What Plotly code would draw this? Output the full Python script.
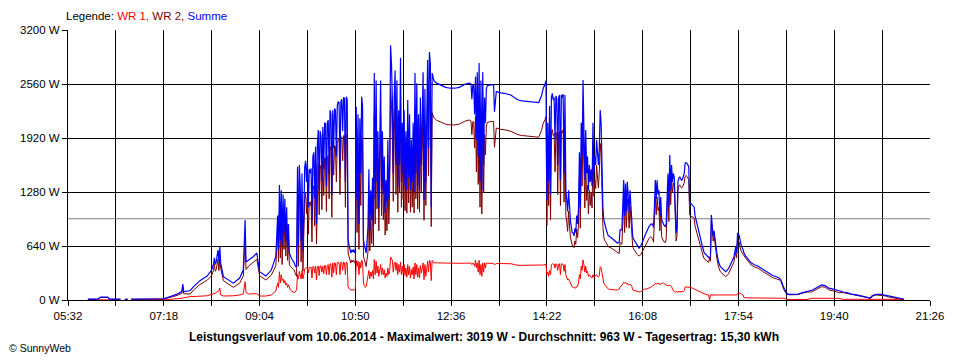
import plotly.graph_objects as go

# ---------------- data (minutes since midnight, watts) ----------------
zeit_labels = ["05:32", "07:18", "09:04", "10:50", "12:36", "14:22",
               "16:08", "17:54", "19:40", "21:26"]
y_labels = ["0 W", "640 W", "1280 W", "1920 W", "2560 W", "3200 W"]
durchschnitt = 963

# early morning
t_a = [354, 365, 368, 376, 378, 390, 391, 395, 398, 399, 402, 436]
s_a = [10, 10, 35, 35, 10, 10, None, 10, 10, None, 10, 12]
r_a = [2, 2, 5, 5, 2, 2, None, 2, 2, None, 2, 3]

# 07:18 - 09:30
t_b = [438, 445, 453, 458, 459, 460, 467, 471, 478, 486,
       491, 493, 494, 495, 496, 498, 499, 500, 501, 504,
       510, 515, 522, 526, 528, 529, 532, 537, 541, 544,
       551, 557, 562]
s_b = [15, 40, 70, 100, 190, 100, 110, 158, 229, 284,
       355, 420, 500, 420, 450, 593, 460, 632, 437, 276,
       229, 200, 260, 355, 948, 450, 474, 513, 557, 335,
       284, 355, 513]
r_b = [3, 8, 15, 20, 25, 25, 40, 40, 45, 50,
       65, 70, 80, 80, 90, 110, 110, 142, 60, 47,
       47, 50, 60, 71, 217, 90, 71, 71, 75, 47,
       47, 60, 107]

# 09:24 - 10:50
t_c = [564, 565, 566, 567, 568, 569, 570, 571, 572, 573,
       574, 575, 576, 577, 578, 579, 580, 581, 582, 583,
       584, 585, 586, 587, 588, 589, 590, 591, 592, 593,
       594, 595, 596, 597, 598, 599, 600, 601, 602, 603,
       604, 605, 606, 607, 608, 609, 610, 611, 612, 613,
       614, 615, 616, 617, 618, 619, 620, 621, 622, 623,
       624, 625, 626, 627, 628, 629, 630, 631, 632, 633,
       634, 635, 636, 637, 638, 639, 640, 641, 642, 643,
       644, 645, 646, 647, 648, 649, 650]
s_c = [1000, 600, 1363, 700, 1300, 650, 1250, 800, 1200, 700,
       1100, 620, 900, 557, 520, 500, 480, 470, 450, 420,
       395, 400, 1580, 650, 1600, 1350, 700, 1500, 593, 1000,
       1580, 1650, 1400, 1620, 1100, 1550, 1500, 1560, 950, 1700,
       1750, 1200, 1817, 900, 1850, 2015, 1300, 2000, 1950, 1400,
       2050, 1550, 2095, 2090, 1350, 2100, 2130, 1500, 2250, 2200,
       1250, 2250, 1800, 2270, 2252, 1700, 2300, 2350, 2340, 1550,
       2350, 2380, 2000, 2400, 2390, 1400, 2410, 2380, 711, 650,
       600, 557, 593, 570, 600, 560, 580]
r_c = [200, 150, 335, 200, 300, 230, 250, 200, 230, 180,
       200, 150, 180, 140, 120, 110, 100, 95, 90, 90,
       100, 120, 300, 250, 340, 300, 250, 350, 250, 300,
       370, 379, 379, 380, 320, 390, 380, 390, 260, 395,
       395, 320, 400, 237, 395, 400, 290, 405, 400, 330,
       400, 310, 410, 405, 300, 410, 420, 300, 430, 425,
       270, 440, 320, 440, 435, 300, 445, 450, 440, 300,
       450, 445, 350, 450, 440, 300, 450, 440, 154, 130,
       125, 119, 120, 119, 125, 120, 130]

# 10:51 - 12:15
t_d = [651, 652, 653, 654, 655, 656, 657, 658, 659, 660,
       661, 662, 663, 664, 665, 666, 667, 668, 669, 670,
       671, 672, 673, 674, 675, 676, 677, 678, 679, 680,
       681, 682, 683, 684, 685, 686, 687, 688, 689, 690,
       691, 692, 693, 694, 695, 696, 697, 698, 699, 700,
       701, 702, 703, 704, 705, 706, 707, 708, 709, 710,
       711, 712, 713, 714, 715, 716, 717, 718, 719, 720,
       721, 722, 723, 724, 725, 726, 727, 728, 729, 730,
       731, 732, 733, 734, 735]
s_d = [2290, 1200, 2200, 900, 2150, 1500, 2410, 2300, 711, 650,
       600, 557, 700, 870, 1550, 830, 1300, 950, 1450, 880,
       2690, 1200, 2600, 1400, 2000, 1100, 1800, 2600, 1300, 2000,
       1250, 1700, 1030, 1420, 1100, 1900, 1200, 1600, 3019, 2800,
       2370, 1500, 2400, 2720, 1600, 2600, 1340, 2250, 1600, 2870,
       1400, 2100, 1500, 2250, 1350, 2000, 1300, 2370, 1450, 2200,
       1300, 1900, 1400, 2100, 1280, 2690, 1500, 2570, 1350, 2200,
       1300, 2400, 1600, 2000, 2700, 1185, 2500, 1400, 2600, 2844,
       1800, 2940, 2800, 1100, 2690]
r_d = [470, 400, 460, 300, 450, 380, 470, 450, 200, 170,
       150, 160, 220, 300, 350, 250, 330, 280, 350, 250,
       480, 300, 460, 320, 400, 280, 380, 420, 300, 380,
       300, 360, 260, 320, 280, 380, 300, 340, 510, 480,
       470, 330, 440, 450, 350, 440, 300, 420, 330, 450,
       300, 400, 310, 420, 290, 380, 270, 420, 300, 400,
       260, 360, 300, 390, 250, 440, 300, 420, 270, 380,
       260, 410, 320, 370, 440, 240, 420, 280, 430, 460,
       330, 470, 450, 230, 470]

# 12:17 - 14:16
t_e = [737, 740, 745, 750, 755, 760, 765, 768, 772, 776,
       778, 779, 780, 781, 782, 783, 784, 785, 786, 787,
       788, 789, 790, 791, 792, 793, 794, 795, 796, 800,
       803, 804, 806, 811, 815, 822, 826, 830, 835, 848,
       853, 856]
s_e = [2600, 2570, 2540, 2520, 2510, 2510, 2520, 2540, 2560, 2570,
       2560, 2380, 2550, 2540, 2200, 2650, 1900, 2700, 1700, 2810,
       1400, 2600, 1300, 2700, 1600, 2400, 2100, 2500, 2540, 2550,
       2550, 2230, 2470, 2455, 2450, 2430, 2400, 2370, 2360, 2345,
       2340, 2420]
r_e = [440, 440, 438, 436, 435, 435, 435, 435, 437, 437,
       437, 420, 437, 430, 400, 470, 380, 440, 330, 470,
       300, 420, 280, 440, 330, 440, 380, 440, 435, 435,
       433, 420, 432, 432, 432, 430, 420, 411, 411, 411,
       411, 411]

# 14:18 - 16:30
t_f = [858, 860, 861, 862, 863, 864, 865, 866, 867, 868,
       869, 870, 871, 872, 873, 874, 875, 876, 877, 878,
       879, 880, 881, 882, 883, 884, 885, 886, 887, 888,
       889, 890, 891, 892, 893, 894, 895, 896, 897, 898,
       899, 900, 901, 902, 903, 904, 905, 906, 907, 908,
       909, 910, 911, 912, 913, 914, 915, 916, 917, 918,
       919, 920, 921, 922, 923, 924, 925, 926, 927, 928,
       929, 930, 932, 935, 938, 940, 942, 943, 945, 946,
       947, 948, 949, 950, 951, 952, 953, 954, 955, 956,
       957, 958, 960, 962, 964, 966, 968, 970, 972, 975,
       977, 979, 980, 981, 982, 983, 984, 985, 986, 987,
       988, 989, 990]
s_f = [2510, 2560, 2600, 1185, 2100, 1400, 2300, 1250, 2400, 2450,
       2370, 2400, 1900, 2420, 2380, 1600, 2400, 2430, 1420, 2430,
       2400, 2440, 1500, 2430, 1300, 1180, 1050, 1300, 1030, 948,
       870, 800, 794, 760, 850, 800, 1000, 900, 1100, 1750,
       1100, 2100, 1700, 2607, 2000, 1422, 2015, 1500, 1700, 1300,
       1600, 1400, 1550, 1350, 2100, 1500, 1700, 1600, 1900, 1700,
       1600, 1800, 2250, 2100, 1422, 1100, 950, 880, 865, 820,
       790, 760, 750, 720, 690, 675, 680, 830, 830, 1100,
       1422, 1000, 1380, 1050, 1400, 1240, 1030, 1300, 1100, 1000,
       750, 720, 680, 640, 615, 640, 700, 750, 800, 870,
       900, 900, 860, 1100, 1422, 1200, 1420, 1250, 1300, 1000,
       1220, 950, 910]
r_f = [415, 420, 425, 300, 330, 280, 350, 300, 420, 430,
       420, 430, 380, 430, 420, 350, 425, 430, 300, 430,
       420, 420, 340, 420, 300, 260, 237, 250, 220, 200,
       170, 154, 150, 140, 150, 140, 160, 160, 200, 300,
       250, 400, 350, 474, 420, 330, 400, 320, 340, 280,
       300, 280, 270, 260, 300, 270, 280, 280, 300, 280,
       270, 290, 395, 380, 300, 230, 200, 180, 170, 150,
       140, 130, 125, 119, 119, 119, 130, 150, 170, 190,
       210, 200, 210, 190, 200, 180, 180, 190, 180, 160,
       119, 115, 110, 100, 95, 100, 119, 130, 130, 140,
       150, 170, 175, 180, 200, 190, 200, 190, 200, 180,
       190, 200, 200]

# 16:31 - 18:41
t_g = [991, 992, 993, 994, 995, 996, 997, 998, 999, 1000,
       1001, 1002, 1003, 1004, 1005, 1006, 1007, 1008, 1009, 1010,
       1011, 1012, 1013, 1014, 1015, 1016, 1017, 1018, 1019, 1020,
       1021, 1023, 1025, 1026, 1028, 1030, 1032, 1034, 1036, 1038,
       1041, 1042, 1043, 1044, 1045, 1046, 1047, 1048, 1049, 1050,
       1051, 1052, 1054, 1057, 1060, 1063, 1066, 1069, 1071, 1072,
       1073, 1074, 1075, 1076, 1077, 1079, 1080, 1082, 1085, 1088,
       1092, 1096, 1100, 1104, 1108, 1112, 1116, 1119, 1121]
s_g = [900, 880, 870, 900, 1200, 1500, 1100, 1718, 1300, 1600,
       1400, 1500, 1450, 900, 794, 850, 1400, 1440, 1460, 1440,
       1420, 1430, 1460, 1500, 1620, 1630, 1620, 1600, 1580, 1160,
       1150, 1130, 1100, 1000, 900, 800, 700, 640, 560, 533,
       505, 500, 520, 1007, 900, 760, 820, 700, 650, 560,
       500, 450, 395, 360, 335, 370, 440, 510, 630, 560,
       794, 780, 760, 700, 650, 600, 560, 520, 480, 440,
       415, 400, 370, 340, 310, 290, 275, 260, 240]
r_g = [200, 195, 190, 180, 170, 175, 170, 175, 170, 160,
       130, 110, 100, 95, 95, 95, 95, 95, 95, 95,
       95, 95, 100, 110, 154, 154, 154, 154, 154, 154,
       150, 140, 130, 125, 110, 100, 90, 80, 70, 65,
       60, 0, 60, 60, 60, 60, 60, 60, 60, 60,
       60, 60, 60, 60, 60, 60, 60, 60, 60, 60,
       80, 80, 80, 80, 70, 60, 30, 25, 25, 25,
       25, 25, 25, 25, 25, 25, 25, 20, 20]

# evening
t_h = [1122, 1124, 1126, 1127, 1130, 1135, 1140, 1144, 1150, 1155,
       1158, 1162, 1166, 1170, 1174, 1180, 1185, 1190, 1195, 1199,
       1205, 1212, 1217, 1220, 1222, 1226, 1232, 1235, 1240, 1246,
       1252, 1257]
s_h = [200, 150, 110, 80, 67, 65, 70, 85, 100, 115,
       130, 158, 178, 170, 140, 125, 107, 95, 85, 70,
       60, 45, 36, 24, 50, 67, 67, 60, 45, 30,
       20, 12]
r_h = [20, 20, 20, 6, 6, 6, 6, 6, 6, 20,
       20, 20, 20, 20, 20, 20, 20, 8, 8, 8,
       8, 8, 8, 8, 8, 8, 8, 8, 8, 8,
       8, 8]

# ---------------- assemble ----------------
zeit = t_a + t_b + t_c + t_d + t_e + t_f + t_g + t_h
summe = s_a + s_b + s_c + s_d + s_e + s_f + s_g + s_h
wr1 = r_a + r_b + r_c + r_d + r_e + r_f + r_g + r_h
wr2 = [None if s is None else s - r for s, r in zip(summe, wr1)]

x_start, x_end, step = 332, 1286, 53
tickvals = list(range(x_start, x_end + 1, step))
ticktext = []
for i in range(len(tickvals)):
    ticktext.append(zeit_labels[i // 2] if i % 2 == 0 else "")

FONT = "Liberation Sans, Arial, sans-serif"

fig = go.Figure()
fig.add_trace(go.Scatter(x=[x_start, x_end], y=[durchschnitt, durchschnitt],
                         mode="lines", line=dict(color="#808080", width=1),
                         hoverinfo="skip"))
fig.add_trace(go.Scatter(x=zeit, y=wr1, mode="lines", name="WR 1",
                         line=dict(color="#FF0000", width=1),
                         connectgaps=False))
fig.add_trace(go.Scatter(x=zeit, y=wr2, mode="lines", name="WR 2",
                         line=dict(color="#800000", width=1),
                         connectgaps=False))
fig.add_trace(go.Scatter(x=zeit, y=summe, mode="lines", name="Summe",
                         line=dict(color="#0000FF", width=1.2),
                         connectgaps=False))

# the page body adds an 8 px offset, so the figure is 952x352 with
# margins that put the plot area at the reference position
fig.update_layout(
    width=952, height=352,
    margin=dict(l=52, r=30, t=22, b=60),
    paper_bgcolor="white", plot_bgcolor="white",
    showlegend=False,
    font=dict(family=FONT, size=11, color="black"),
    xaxis=dict(range=[x_start, x_end], tickvals=tickvals, ticktext=ticktext,
               showgrid=True, gridcolor="black", gridwidth=1,
               ticks="outside", ticklen=5, tickcolor="black",
               showline=True, linecolor="black", linewidth=1,
               zeroline=False, tickfont=dict(family=FONT, size=11.5)),
    yaxis=dict(range=[0, 3200], tickvals=[0, 640, 1280, 1920, 2560, 3200],
               ticktext=y_labels,
               showgrid=True, gridcolor="black", gridwidth=1,
               ticks="outside", ticklen=5, tickcolor="black",
               showline=True, linecolor="black", linewidth=1,
               zeroline=False, tickfont=dict(family=FONT, size=11.5)),
)

fig.add_annotation(
    xref="paper", yref="paper", x=-0.005, y=1.052, xanchor="left", yanchor="middle",
    showarrow=False, font=dict(family=FONT, size=11.5, color="black"),
    text=("Legende: <span style='color:#FF0000'>WR 1,</span> "
          "<span style='color:#800000'>WR 2,</span> "
          "<span style='color:#0000FF'>Summe</span>"))
fig.add_annotation(
    xref="paper", yref="paper", x=0.483, y=-0.137, xanchor="center", yanchor="middle",
    showarrow=False, font=dict(family=FONT, size=12, color="black"),
    text=("<b>Leistungsverlauf vom 10.06.2014 - Maximalwert: 3019 W - "
          "Durchschnitt: 963 W - Tagesertrag: 15,30 kWh</b>"))
fig.add_annotation(
    xref="paper", yref="paper", x=-0.071, y=-0.178, xanchor="left", yanchor="middle",
    showarrow=False, font=dict(family=FONT, size=10.5, color="black"),
    text="© SunnyWeb")

fig.write_html("out.html")
